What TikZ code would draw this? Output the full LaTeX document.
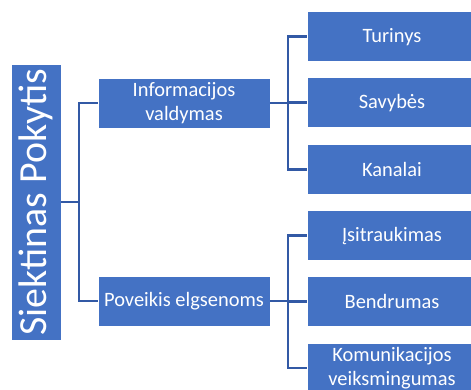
\documentclass[tikz,border=0pt]{standalone}
\usepackage{fontspec}
\setmainfont{Carlito}
\definecolor{boxblue}{HTML}{4472C4}
\definecolor{linkblue}{HTML}{3259A5}
\begin{document}
\begin{tikzpicture}[x=1bp,y=-1bp,
  box/.style={rectangle, fill=boxblue, draw=white, line width=0.6bp,
    text=white, align=center, inner sep=0pt,
    font=\fontsize{20.5}{24.5}\selectfont},
  midbox/.style={box, minimum width=172bp, minimum height=50bp},
  leafbox/.style={box, minimum width=170bp, minimum height=50bp},
  link/.style={draw=linkblue, line width=2.6bp}]
\useasboundingbox (0,0) rectangle (471,389);
\clip (0,0) rectangle (471,389);

% root
\node[box, rotate=90, minimum width=276bp, minimum height=50bp,
      font=\fontsize{40}{48}\selectfont] (root) at (36,202) {Siektinas Pokytis};

% second level
\node[midbox] (info) at (184,103) {Informacijos\\[-0.5bp]valdymas};
\node[midbox] (pov)  at (184,301) {Poveikis elgsenoms};

% leaves
\node[leafbox] (tur) at (392,36.7)  {Turinys};
\node[leafbox] (sav) at (392,102.7) {Savybės};
\node[leafbox] (kan) at (392,169.3) {Kanalai};
\node[leafbox] (isi) at (392,235.7) {Įsitraukimas};
\node[leafbox] (ben) at (392,301.7) {Bendrumas};
\node[leafbox] (kom) at (392,368)   {Komunikacijos\\[-0.5bp]veiksmingumas};

% junction columns
\coordinate (j0) at (79,0);
\coordinate (j1) at (288,0);

% connectors
\draw[link] (root.south) -- (root.south -| j0);
\draw[link] (root.south -| j0) |- (info.west);
\draw[link] (root.south -| j0) |- (pov.west);

\draw[link] (info.east) -- (info.east -| j1);
\draw[link] (info.east -| j1) |- (tur.west);
\draw[link] (info.east -| j1) |- (sav.west);
\draw[link] (info.east -| j1) |- (kan.west);

\draw[link] (pov.east) -- (pov.east -| j1);
\draw[link] (pov.east -| j1) |- (isi.west);
\draw[link] (pov.east -| j1) |- (ben.west);
\draw[link] (pov.east -| j1) |- (kom.west);
\end{tikzpicture}
\end{document}
